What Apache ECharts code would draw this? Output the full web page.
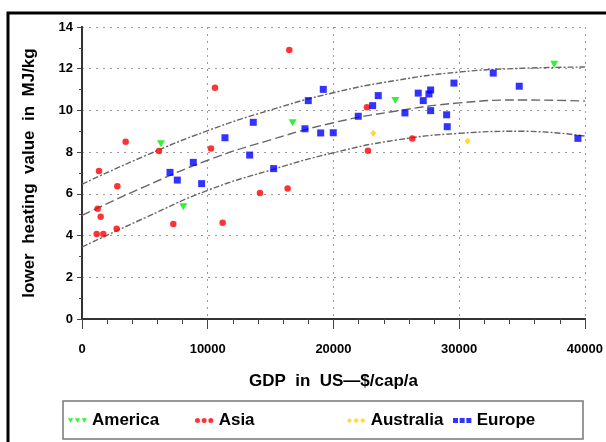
<!DOCTYPE html>
<html>
<head>
<meta charset="utf-8">
<script src="https://cdn.jsdelivr.net/npm/echarts@6/dist/echarts.min.js"></script>
<style>
html,body{margin:0;padding:0;background:#fff;}
#chart{width:606px;height:442px;}
</style>
</head>
<body>
<div id="chart"></div>
<script>
// ---- data ----
const xTicks = [0, 10000, 20000, 30000, 40000];
const yTicks = [0, 2, 4, 6, 8, 10, 12, 14];
const groups = ['America', 'Asia', 'Australia', 'Europe'];

const americaPts = [[6282, 8.40], [8056, 5.38], [16752, 9.41], [24915, 10.48], [37558, 12.22]];
const asiaPts = [
  [3473, 8.50], [1352, 7.09], [6123, 8.05], [2810, 6.36], [1246, 5.29], [1484, 4.90],
  [1166, 4.07], [1696, 4.07], [2757, 4.33], [7263, 4.55], [10576, 11.09], [10258, 8.18],
  [11186, 4.62], [16487, 12.90], [14155, 6.04], [16354, 6.26], [22663, 10.15],
  [22743, 8.07], [26266, 8.66]
];
const australiaPts = [[23167, 8.90], [30671, 8.53]];
const europePts = [
  [6998, 7.03], [7580, 6.66], [8851, 7.51], [9515, 6.49], [11371, 8.69], [13622, 9.43],
  [13334, 7.86], [15242, 7.21], [17996, 10.47], [19189, 11.01], [17733, 9.12],
  [18982, 8.92], [19984, 8.93], [21972, 9.72], [23117, 10.23], [23563, 10.71],
  [25685, 9.88], [26743, 10.83], [27141, 10.47], [27594, 10.79], [27729, 10.98],
  [27729, 9.99], [29001, 9.79], [29049, 9.22], [29582, 11.31], [32707, 11.79],
  [34775, 11.16], [39442, 8.66]
];

// fitted curve + bands, read at every 5000
const curveX = [0, 5000, 10000, 15000, 20000, 25000, 30000, 35000, 40000];
const upperY = [6.46, 7.82, 9.03, 10.02, 10.85, 11.44, 11.84, 12.02, 12.08];
const fitY   = [4.97, 6.35, 7.61, 8.59, 9.41, 9.97, 10.36, 10.50, 10.45];
const lowerY = [3.45, 4.85, 6.17, 7.14, 7.97, 8.58, 8.90, 9.00, 8.77];

// ---- chart ----
const FONT = '"Liberation Sans", Arial, sans-serif';
const zip = (xs, ys) => xs.map((x, i) => [x, ys[i]]);

const icons = {
  America: 'path://M0,0L6,0L3,5Z M8,0L14,0L11,5Z M16,0L22,0L19,5Z',
  Asia: 'path://M3,0A3,3 0 1 1 3,6A3,3 0 1 1 3,0Z M11,0A3,3 0 1 1 11,6A3,3 0 1 1 11,0Z M19,0A3,3 0 1 1 19,6A3,3 0 1 1 19,0Z',
  Australia: 'path://M3,0L6,3L3,6L0,3Z M11,0L14,3L11,6L8,3Z M19,0L22,3L19,6L16,3Z',
  Europe: 'path://M0,0h6v6h-6Z M8,0h6v6h-6Z M16,0h6v6h-6Z'
};
const colors = { America: '#00ee00', Asia: '#ff0000', Australia: '#ffd000', Europe: '#0000ff' };
const legendLeft = { America: 68, Asia: 195, Australia: 347, Europe: 453 };

const scatter = (name, pts, symbol, size, rot) => ({
  name, type: 'scatter', data: pts, symbol, symbolSize: size, symbolRotate: rot || 0,
  itemStyle: { color: colors[name] }, z: 5
});
const curve = (name, ys, dash) => ({
  name, type: 'line', data: zip(curveX, ys), smooth: true, symbol: 'none',
  lineStyle: { color: '#666', width: 1.4, type: dash }, z: 3, silent: true
});

const chart = echarts.init(document.getElementById('chart'), null, { renderer: 'canvas' });
chart.setOption({
  animation: false,
  backgroundColor: '#fff',
  grid: { left: 82, right: 21, top: 27, bottom: 123 },
  legend: groups.map(g => ({
    data: [{ name: g, icon: icons[g] }],
    left: legendLeft[g], top: 412,
    itemWidth: 19, itemHeight: 5, itemGap: 6, padding: 0,
    textStyle: { fontFamily: FONT, fontWeight: 'bold', fontSize: 17, color: '#000' },
    selectedMode: false
  })),
  graphic: [
    { type: 'polyline', shape: { points: [[8, 700], [8, 13], [800, 13]] },
      style: { fill: 'none', stroke: '#000', lineWidth: 3 }, z: -1 },
    { type: 'rect', shape: { x: 63, y: 401, width: 520, height: 38 },
      style: { fill: 'none', stroke: '#777', lineWidth: 1.5 }, z: -1 }
  ],
  xAxis: [{
    type: 'value', min: xTicks[0], max: xTicks[xTicks.length - 1], interval: xTicks[1] - xTicks[0],
    offset: 2,
    name: 'GDP  in  US—$/cap/a', nameLocation: 'middle', nameGap: 52,
    nameTextStyle: { fontFamily: FONT, fontWeight: 'bold', fontSize: 17, color: '#000' },
    axisLine: { show: true, lineStyle: { color: '#333', width: 2 } },
    axisTick: { show: true, length: 10, lineStyle: { color: '#444', width: 1 } },
    minorTick: { show: true, splitNumber: 5, length: 5, lineStyle: { color: '#444', width: 1 } },
    axisLabel: { margin: 22, fontFamily: FONT, fontWeight: 'bold', fontSize: 13, color: '#000',
      formatter: v => String(v) },
    splitLine: { show: true, lineStyle: { color: '#999', type: [2, 5], width: 1 } }
  }, {
    type: 'value', position: 'top', offset: 2, min: xTicks[0], max: xTicks[xTicks.length - 1],
    axisLine: { show: true, lineStyle: { color: '#333', width: 2 } },
    axisTick: { show: false }, axisLabel: { show: false }, splitLine: { show: false }
  }],
  yAxis: [{
    type: 'value', min: yTicks[0], max: yTicks[yTicks.length - 1], interval: yTicks[1] - yTicks[0],
    offset: 2,
    name: 'lower  heating  value  in  MJ/kg', nameLocation: 'middle', nameGap: 42,
    nameTextStyle: { fontFamily: FONT, fontWeight: 'bold', fontSize: 17, color: '#000' },
    axisLine: { show: true, lineStyle: { color: '#333', width: 2 } },
    axisTick: { show: true, length: 5, lineStyle: { color: '#444', width: 1 } },
    minorTick: { show: true, splitNumber: 2, length: 3, lineStyle: { color: '#444', width: 1 } },
    axisLabel: { margin: 7, fontFamily: FONT, fontWeight: 'bold', fontSize: 13, color: '#000' },
    splitLine: { show: true, lineStyle: { color: '#999', type: [2, 5], width: 1 } }
  }, {
    type: 'value', position: 'right', offset: 2, min: yTicks[0], max: yTicks[yTicks.length - 1],
    axisLine: { show: true, lineStyle: { color: '#333', width: 2 } },
    axisTick: { show: false }, axisLabel: { show: false }, splitLine: { show: false }
  }],
  series: [
    curve('upper', upperY, [6, 2, 2, 2]),
    curve('fit', fitY, [9, 4]),
    curve('lower', lowerY, [6, 2, 2, 2]),
    scatter('America', americaPts, 'triangle', [8, 7], 180),
    scatter('Asia', asiaPts, 'circle', 6.5),
    scatter('Australia', australiaPts, 'diamond', [6, 7]),
    scatter('Europe', europePts, 'rect', 7)
  ]
});
</script>
</body>
</html>
